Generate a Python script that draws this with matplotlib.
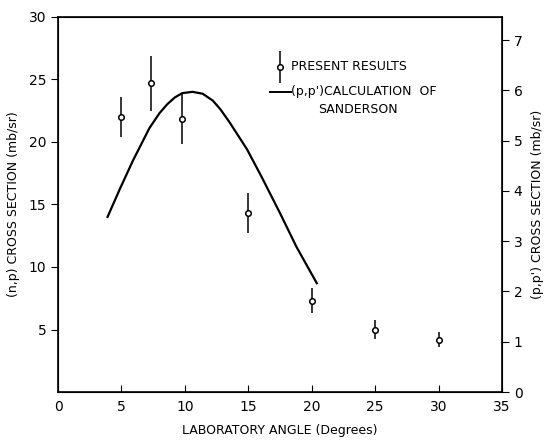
import matplotlib.pyplot as plt

plt.rcParams['font.family'] = ['DejaVu Sans']

# measured points (n,p)
angle = [5.0, 7.3, 9.8, 15.0, 20.0, 25.0, 30.0]
sigma = [22.0, 24.7, 21.8, 14.3, 7.3, 5.0, 4.2]
sigma_err = [1.6, 2.2, 2.0, 1.6, 1.0, 0.75, 0.6]

# (p,p') calculation of Sanderson
calc_angle = [3.9, 4.9, 5.9, 7.2, 8.0, 8.6, 9.2, 9.8, 10.6, 11.4, 12.2, 12.8, 13.5,
              14.9, 16.1, 17.5, 18.8, 20.4]
calc_sigma = [14.0, 16.3, 18.5, 21.1, 22.3, 23.0, 23.55, 23.9, 24.0, 23.85, 23.3, 22.6,
              21.6, 19.4, 17.1, 14.3, 11.6, 8.7]

fig = plt.figure(figsize=(5.48, 4.42), dpi=100)
ax = fig.add_axes([0.106, 0.113, 0.81, 0.849])

ax.errorbar(angle, sigma, yerr=sigma_err, fmt='o', color='black', mfc='white',
            ms=4, mew=1.1, elinewidth=1.1, capsize=0)
ax.plot(calc_angle, calc_sigma, color='black', lw=1.6)

ax.set_xlim(0, 35)
ax.set_ylim(0, 30)
ax.set_xticks([0, 5, 10, 15, 20, 25, 30, 35])
ax.set_yticks([5, 10, 15, 20, 25, 30])
ax.tick_params(axis='x', direction='in', length=5, labelsize=10, pad=6)
ax.tick_params(axis='y', direction='out', length=5, labelsize=10)
for s in ax.spines.values():
    s.set_linewidth(1.2)

ax2 = ax.twinx()
ax2.set_ylim(0, 30 / 4.02)
ax2.set_yticks([0, 1, 2, 3, 4, 5, 6, 7])
ax2.tick_params(axis='y', direction='out', length=5, labelsize=10)

ax.set_xlabel('LABORATORY ANGLE (Degrees)', fontsize=9, labelpad=7)
ax.set_ylabel('(n,p) CROSS SECTION (mb/sr)', fontsize=9, labelpad=6)
ax2.set_ylabel("(p,p') CROSS SECTION (mb/sr)", fontsize=9, labelpad=6)

# legend drawn by hand
ax.errorbar([17.5], [26.0], yerr=[1.3], fmt='o', color='black', mfc='white',
            ms=4, mew=1.1, elinewidth=1.1, capsize=0)
ax.text(18.4, 26.0, 'PRESENT RESULTS', fontsize=9, va='center')
ax.plot([16.7, 18.4], [24.0, 24.0], color='black', lw=1.4)
ax.text(18.4, 24.0, "(p,p')CALCULATION  OF", fontsize=9, va='center')
ax.text(20.5, 22.6, 'SANDERSON', fontsize=9, va='center')

plt.savefig('out.png', dpi=100)
